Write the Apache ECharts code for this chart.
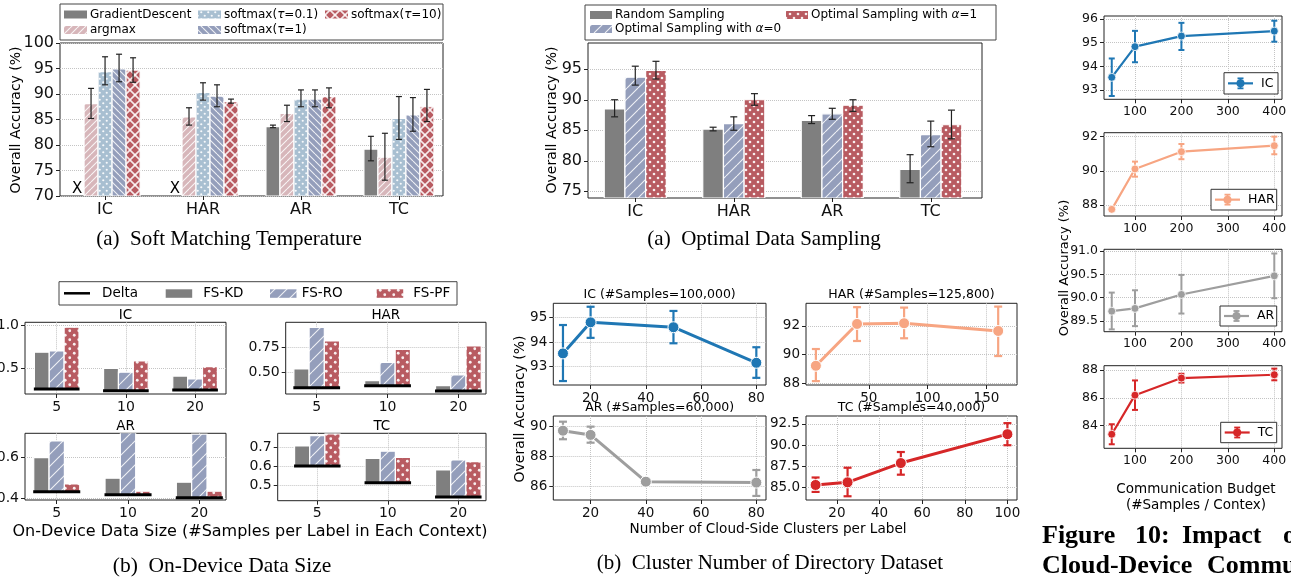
<!DOCTYPE html>
<html><head><meta charset="utf-8">
<script src="https://cdn.jsdelivr.net/npm/echarts@6/dist/echarts.min.js"></script>
<style>html,body{margin:0;padding:0;background:#fff}#c{width:1291px;height:578px}</style>
</head><body><div id="c"></div>
<script>
// ================= DATA =================
// (a) Soft Matching Temperature
const tempCats = ['IC', 'HAR', 'AR', 'TC'];
const tempGD = [null, null, 83.6, 79.2];
const tempGDLo = [null, null, 83.4, 76.9];
const tempGDHi = [null, null, 83.9, 81.7];
const tempArgmax = [88.1, 85.5, 86.2, 77.6];
const tempArgmaxLo = [85.2, 83.9, 84.6, 73.1];
const tempArgmaxHi = [91.1, 87.3, 87.8, 82.3];
const tempT01 = [94.4, 90.3, 89.0, 85.2];
const tempT01Lo = [91.8, 88.8, 87.5, 81.1];
const tempT01Hi = [97.3, 92.2, 90.8, 89.5];
const tempT1 = [94.9, 89.6, 89.0, 85.9];
const tempT1Lo = [92.4, 87.5, 87.5, 82.7];
const tempT1Hi = [97.8, 91.8, 90.8, 89.3];
const tempT10 = [94.7, 88.5, 89.5, 87.5];
const tempT10Lo = [92.3, 88.2, 87.3, 84.6];
const tempT10Hi = [97.1, 89.0, 91.2, 90.9];
const tempYTicks = [70, 75, 80, 85, 90, 95, 100];

// (a) Optimal Data Sampling
const sampCats = ['IC', 'HAR', 'AR', 'TC'];
const sampRandom = [88.5, 85.2, 86.6, 78.6];
const sampRandomLo = [87.2, 84.9, 86.1, 76.4];
const sampRandomHi = [90.0, 85.5, 87.4, 81.0];
const sampA0 = [93.7, 86.1, 87.7, 84.3];
const sampA0Lo = [92.4, 85.0, 86.8, 82.3];
const sampA0Hi = [95.5, 87.2, 88.6, 86.5];
const sampA1 = [94.8, 90.0, 89.1, 85.9];
const sampA1Lo = [93.4, 89.1, 88.1, 83.6];
const sampA1Hi = [96.3, 91.0, 90.0, 88.3];
const sampYTicks = [75, 80, 85, 90, 95];

// Communication budget (right column)
const budget = [50, 100, 200, 400];
const budXTicks = [100, 200, 300, 400];
const budIC = [93.53, 94.83, 95.28, 95.49];
const budICLo = [92.74, 94.17, 94.69, 95.04];
const budICHi = [94.33, 95.50, 95.84, 95.93];
const budHAR = [87.75, 90.11, 91.12, 91.47];
const budHARLo = [87.70, 89.66, 90.68, 90.97];
const budHARHi = [87.80, 90.54, 91.57, 92.00];
const budAR = [89.71, 89.77, 90.07, 90.47];
const budARLo = [89.32, 89.39, 89.66, 89.99];
const budARHi = [90.11, 90.16, 90.49, 90.95];
const budTC = [83.38, 86.19, 87.42, 87.66];
const budTCLo = [82.66, 85.13, 87.10, 87.26];
const budTCHi = [84.10, 87.25, 87.73, 88.10];
const budICTicks = [93, 94, 95, 96];
const budHARTicks = [88, 90, 92];
const budARTicks = [89.5, 90.0, 90.5, 91.0];
const budTCTicks = [84, 86, 88];

// (b) On-Device Data Size
const sizeCats = ['5', '10', '20'];
const sizeICDelta = [0.262, 0.242, 0.250];
const sizeICKD = [0.685, 0.500, 0.410];
const sizeICRO = [0.700, 0.455, 0.377];
const sizeICPF = [0.973, 0.585, 0.520];
const sizeHARDelta = [0.350, 0.370, 0.317];
const sizeHARKD = [0.537, 0.420, 0.370];
const sizeHARRO = [0.954, 0.604, 0.477];
const sizeHARPF = [0.817, 0.734, 0.767];
const sizeARDelta = [0.432, 0.418, 0.403];
const sizeARKD = [0.598, 0.498, 0.479];
const sizeARRO = [0.680, 0.720, 0.713];
const sizeARPF = [0.470, 0.435, 0.435];
const sizeTCDelta = [0.604, 0.516, 0.440];
const sizeTCKD = [0.709, 0.644, 0.583];
const sizeTCRO = [0.764, 0.682, 0.636];
const sizeTCPF = [0.773, 0.649, 0.627];
const sizeICTicks = [0.5, 1.0];
const sizeHARTicks = [0.50, 0.75];
const sizeARTicks = [0.4, 0.6];
const sizeTCTicks = [0.5, 0.6, 0.7];

// (b) Cluster Number of Directory Dataset
const clICX = [10, 20, 50, 80];
const clIC = [93.54, 94.80, 94.60, 93.16];
const clICLo = [92.42, 94.17, 93.95, 92.55];
const clICHi = [94.69, 95.43, 95.26, 93.79];
const clHARX = [5, 40, 80, 160];
const clHAR = [89.22, 92.14, 92.19, 91.65];
const clHARLo = [88.15, 90.95, 91.14, 89.90];
const clHARHi = [90.39, 93.31, 93.28, 93.35];
const clARX = [10, 20, 40, 80];
const clAR = [89.73, 89.45, 86.33, 86.27];
const clARLo = [89.16, 88.93, 86.25, 85.38];
const clARHi = [90.33, 90.00, 86.41, 87.11];
const clTCX = [10, 25, 50, 100];
const clTC = [85.32, 85.63, 87.90, 91.30];
const clTCLo = [84.50, 83.99, 86.53, 90.00];
const clTCHi = [86.20, 87.35, 89.20, 92.60];
const clXTicks = [20, 40, 60, 80];
const clHARXTicks = [50, 100, 150];
const clTCXTicks = [20, 40, 60, 80, 100];
const clICTicks = [93, 94, 95];
const clHARTicks = [88, 90, 92];
const clARTicks = [86, 88, 90];
const clTCTicks = [85.0, 87.5, 90.0, 92.5];

// ================= HELPERS =================
const FONT = 'DejaVu Sans';
const SERIF = '"Liberation Serif", "DejaVu Serif", serif';
const GRIDC = '#c4c4c4';

function pat(bg, kind, size, lw, r) {
  const c = document.createElement('canvas'); c.width = size; c.height = size;
  const g = c.getContext('2d');
  g.fillStyle = bg; g.fillRect(0, 0, size, size);
  g.strokeStyle = 'rgba(255,255,255,0.85)'; g.fillStyle = 'rgba(255,255,255,0.9)'; g.lineWidth = lw;
  const diag = (dir) => {
    g.beginPath();
    for (let k = -1; k <= 1; k++) {
      if (dir > 0) { g.moveTo(k * size, size); g.lineTo(k * size + size, 0); }
      else { g.moveTo(k * size, 0); g.lineTo(k * size + size, size); }
    }
    g.stroke();
  };
  if (kind === '/') diag(1);
  else if (kind === '\\') diag(-1);
  else if (kind === 'x') { diag(1); diag(-1); }
  else if (kind === '.') {
    [[size / 4, size / 4], [3 * size / 4, 3 * size / 4]].forEach(p => {
      g.beginPath(); g.arc(p[0], p[1], r, 0, Math.PI * 2); g.fill();
    });
  }
  return { image: c, repeat: 'repeat' };
}

const C_GRAY = '#7f7f7f', C_PINK = '#d7b6ba', C_LBLUE = '#a8bfd1', C_SLATE = '#949ebb', C_RED = '#b85b61';
const P_ARGMAX = pat(C_PINK, '/', 7, 1.1);
const P_T01 = pat(C_LBLUE, '.', 7, 1, 1.1);
const P_T1 = pat(C_SLATE, '\\', 7, 1.1);
const P_T10 = pat(C_RED, 'x', 10, 1.6);
const P_A0 = pat(C_SLATE, '/', 11, 1.1);
const P_A1 = pat(C_RED, '.', 8, 1, 1.3);
const P_RO = pat(C_SLATE, '/', 12, 1.1);
const P_PF = pat(C_RED, '.', 9, 1, 1.4);

const grids = [], xAxes = [], yAxes = [], series = [], graphics = [];

function addGrid(left, top, width, height) {
  grids.push({ left, top, width, height, show: true, borderColor: '#222', borderWidth: 1,
    backgroundColor: 'transparent', containLabel: false, outerBoundsMode: 'none' });
  return grids.length - 1;
}
function valAxis(gi, min, max, ticks, fs, dec, grid) {
  return {
    type: 'value', gridIndex: gi, min, max,
    axisLine: { show: false, onZero: false },
    axisTick: { show: true, length: 4, lineStyle: { color: '#222' }, customValues: ticks },
    axisLabel: { fontSize: fs, fontFamily: FONT, color: '#111', margin: 6, customValues: ticks,
      formatter: v => dec == null ? String(v) : Number(v).toFixed(dec) },
    splitLine: { show: grid, lineStyle: { color: GRIDC, type: 'dotted', width: 1 } }
  };
}
// category positions on a numeric axis (index 0..n-1), labelled by category names
function catValAxis(gi, min, max, cats, fs, grid) {
  const idx = cats.map((c, i) => i);
  const ax = valAxis(gi, min, max, idx, fs, null, grid);
  ax.axisLabel.formatter = v => cats[Math.round(v)];
  return ax;
}
function barItem(slot, n, stepFrac, fill) {
  return function (params, api) {
    const ci = api.value(0), v = api.value(1), b = api.value(2);
    const band = Math.abs(api.size([1, 0])[0]), step = band * stepFrac;
    const top = api.coord([ci, v]), bot = api.coord([ci, b]);
    const cx = top[0] + (slot - (n - 1) / 2) * step;
    return { type: 'rect', shape: { x: cx - step / 2, y: top[1], width: step, height: bot[1] - top[1] },
      style: { fill, stroke: '#fff', lineWidth: 1.2 } };
  };
}
function errGroupItem(slot, n, stepFrac, cap, color, lw) {
  return function (params, api) {
    const ci = api.value(0), lo = api.value(1), hi = api.value(2);
    const band = Math.abs(api.size([1, 0])[0]), step = band * stepFrac;
    const p1 = api.coord([ci, lo]), p2 = api.coord([ci, hi]);
    const x = p1[0] + (slot - (n - 1) / 2) * step;
    const st = { stroke: color, lineWidth: lw };
    return { type: 'group', children: [
      { type: 'line', shape: { x1: x, y1: p1[1], x2: x, y2: p2[1] }, style: st },
      { type: 'line', shape: { x1: x - cap, y1: p1[1], x2: x + cap, y2: p1[1] }, style: st },
      { type: 'line', shape: { x1: x - cap, y1: p2[1], x2: x + cap, y2: p2[1] }, style: st }
    ] };
  };
}
function errItem(cap, color, lw) {
  return function (params, api) {
    const x = api.value(0), lo = api.value(1), hi = api.value(2);
    const p1 = api.coord([x, lo]), p2 = api.coord([x, hi]);
    const st = { stroke: color, lineWidth: lw };
    return { type: 'group', children: [
      { type: 'line', shape: { x1: p1[0], y1: p1[1], x2: p2[0], y2: p2[1] }, style: st },
      { type: 'line', shape: { x1: p1[0] - cap, y1: p1[1], x2: p1[0] + cap, y2: p1[1] }, style: st },
      { type: 'line', shape: { x1: p2[0] - cap, y1: p2[1], x2: p2[0] + cap, y2: p2[1] }, style: st }
    ] };
  };
}
function deltaItem(spanFrac, lw) {
  return function (params, api) {
    const ci = api.value(0), d = api.value(1);
    const band = Math.abs(api.size([1, 0])[0]), p = api.coord([ci, d]);
    return { type: 'line', shape: { x1: p[0] - band * spanFrac / 2, y1: p[1], x2: p[0] + band * spanFrac / 2, y2: p[1] },
      style: { stroke: '#000', lineWidth: lw } };
  };
}
function xMarkItem(slot, n, stepFrac) {
  return function (params, api) {
    const ci = api.value(0), v = api.value(1);
    const band = Math.abs(api.size([1, 0])[0]), step = band * stepFrac;
    const p = api.coord([ci, v]);
    return { type: 'text', x: p[0] + (slot - (n - 1) / 2) * step, y: p[1] + 1,
      style: { text: 'X', fill: '#000', font: '15px ' + FONT, align: 'center', verticalAlign: 'bottom' } };
  };
}
function txt(x, y, text, font, opts) {
  graphics.push(Object.assign({ type: 'text', x, y, silent: true,
    style: Object.assign({ text, font, fill: '#000', align: 'center', verticalAlign: 'middle' }, (opts && opts.style) || {}) },
    opts && opts.rotation ? { rotation: opts.rotation } : {}));
}
function vtxt(x, y, text, font) { txt(x, y, text, font, { rotation: Math.PI / 2 }); }
// legend label with an italic greek symbol
function mathTxt(x, y, pre, sym, post, size) {
  graphics.push({ type: 'text', x, y, silent: true, style: {
    text: '{a|' + pre + '}{i|' + sym + '}{a|' + post + '}', align: 'left', verticalAlign: 'middle',
    rich: { a: { fontFamily: FONT, fontSize: size, fill: '#000' }, i: { fontFamily: FONT, fontSize: size, fontStyle: 'italic', fill: '#000' } } } });
}

// ================= (a) Soft Matching Temperature =================
{
  const gi = addGrid(60, 43, 383, 153);
  xAxes.push(catValAxis(gi, -0.46, 3.45, tempCats, 16, false));
  yAxes.push(valAxis(gi, 70, 100, tempYTicks, 16, null, true));
  const groups = [
    [tempGD, tempGDLo, tempGDHi, C_GRAY],
    [tempArgmax, tempArgmaxLo, tempArgmaxHi, P_ARGMAX],
    [tempT01, tempT01Lo, tempT01Hi, P_T01],
    [tempT1, tempT1Lo, tempT1Hi, P_T1],
    [tempT10, tempT10Lo, tempT10Hi, P_T10]
  ];
  groups.forEach((g, k) => {
    series.push({ type: 'custom', xAxisIndex: gi, yAxisIndex: gi, clip: true, z: 2, encode: { x: 0, y: [1, 2] },
      data: g[0].map((v, i) => v == null ? null : [i, v, 70]).filter(Boolean), renderItem: barItem(k, 5, 0.143, g[3]) });
    series.push({ type: 'custom', xAxisIndex: gi, yAxisIndex: gi, z: 3, encode: { x: 0, y: [1, 2] },
      data: g[1].map((v, i) => v == null ? null : [i, v, g[2][i]]).filter(Boolean), renderItem: errGroupItem(k, 5, 0.143, 3, '#222', 1.2) });
  });
  series.push({ type: 'custom', xAxisIndex: gi, yAxisIndex: gi, z: 3, encode: { x: 0, y: 1 },
    data: tempGD.map((v, i) => v == null ? [i, 70] : null).filter(Boolean), renderItem: xMarkItem(0, 5, 0.143) });
  vtxt(16, 120, 'Overall Accuracy (%)', '14px ' + FONT);
  // legend
  graphics.push({ type: 'rect', shape: { x: 60, y: 4, width: 383, height: 36 }, style: { fill: '#fff', stroke: '#444', lineWidth: 1 } });
  const leg = [[64, 10.5, C_GRAY, 'GradientDescent'], [198, 10.5, P_T01, ['softmax(', 'τ', '=0.1)']], [325, 10.5, P_T10, ['softmax(', 'τ', '=10)']],
               [64, 26, P_ARGMAX, 'argmax'], [198, 26, P_T1, ['softmax(', 'τ', '=1)']]];
  leg.forEach(l => {
    graphics.push({ type: 'rect', shape: { x: l[0], y: l[1], width: 23, height: 8 }, style: { fill: l[2] } });
    if (Array.isArray(l[3])) mathTxt(l[0] + 26, l[1] + 4, l[3][0], l[3][1], l[3][2], 12);
    else txt(l[0] + 26, l[1] + 4, l[3], '12px ' + FONT, { style: { align: 'left' } });
  });
  txt(229, 239, '(a)  Soft Matching Temperature', '21px ' + SERIF);
}

// ================= (a) Optimal Data Sampling =================
{
  const gi = addGrid(588, 43, 394, 155);
  xAxes.push(catValAxis(gi, -0.48, 3.52, sampCats, 16, false));
  yAxes.push(valAxis(gi, 73.9, 99.3, sampYTicks, 16, null, true));
  const groups = [
    [sampRandom, sampRandomLo, sampRandomHi, C_GRAY],
    [sampA0, sampA0Lo, sampA0Hi, P_A0],
    [sampA1, sampA1Lo, sampA1Hi, P_A1]
  ];
  groups.forEach((g, k) => {
    series.push({ type: 'custom', xAxisIndex: gi, yAxisIndex: gi, clip: true, z: 2, encode: { x: 0, y: [1, 2] },
      data: g[0].map((v, i) => [i, v, 73.9]), renderItem: barItem(k, 3, 0.21, g[3]) });
    series.push({ type: 'custom', xAxisIndex: gi, yAxisIndex: gi, z: 3, encode: { x: 0, y: [1, 2] },
      data: g[1].map((v, i) => [i, v, g[2][i]]), renderItem: errGroupItem(k, 3, 0.21, 3.5, '#222', 1.2) });
  });
  vtxt(552, 120, 'Overall Accuracy (%)', '14px ' + FONT);
  graphics.push({ type: 'rect', shape: { x: 585, y: 5, width: 411, height: 35 }, style: { fill: '#fff', stroke: '#444', lineWidth: 1 } });
  const leg = [[590, 11, C_GRAY, null], [786, 11, P_A1, '=1'], [590, 25, P_A0, '=0']];
  leg.forEach(l => {
    graphics.push({ type: 'rect', shape: { x: l[0], y: l[1], width: 22, height: 8 }, style: { fill: l[2] } });
    if (l[3] == null) txt(l[0] + 25, l[1] + 4, 'Random Sampling', '12px ' + FONT, { style: { align: 'left' } });
    else mathTxt(l[0] + 25, l[1] + 4, 'Optimal Sampling with ', 'α', l[3], 12);
  });
  txt(764, 239, '(a)  Optimal Data Sampling', '21px ' + SERIF);
}

// ================= Communication budget (right column) =================
{
  const specs = [
    [16, 83.3, 92.6, 96.13, budICTicks, null, budIC, budICLo, budICHi, '#1f77b4', 'IC', [1224, 72.7, 54, 21.3]],
    [132.7, 83.3, 87.36, 92.23, budHARTicks, null, budHAR, budHARLo, budHARHi, '#f7a582', 'HAR', [1211, 189.3, 65.7, 20.7]],
    [249.3, 82.4, 89.27, 91.04, budARTicks, 1, budAR, budARLo, budARHi, '#9e9e9e', 'AR', [1220, 306, 56.7, 20]],
    [365.7, 82.6, 82.37, 88.31, budTCTicks, null, budTC, budTCLo, budTCHi, '#d62728', 'TC', [1220.7, 422.3, 56, 20.4]]
  ];
  specs.forEach(s => {
    const gi = addGrid(1104, s[0], 178, s[1]);
    xAxes.push(valAxis(gi, 33.3, 416.6, budXTicks, 12.5, null, true));
    yAxes.push(valAxis(gi, s[2], s[3], s[4], 12.5, s[5], true));
    series.push({ type: 'line', xAxisIndex: gi, yAxisIndex: gi, z: 4, data: budget.map((x, i) => [x, s[6][i]]),
      symbol: 'circle', symbolSize: 8, lineStyle: { color: s[9], width: 2.2 }, itemStyle: { color: s[9], borderColor: '#fff', borderWidth: 0.8 } });
    series.push({ type: 'custom', xAxisIndex: gi, yAxisIndex: gi, z: 3, encode: { x: 0, y: [1, 2] },
      data: budget.map((x, i) => [x, s[7][i], s[8][i]]), renderItem: errItem(3, s[9], 2) });
    const b = s[11];
    graphics.push({ type: 'rect', z: 10, shape: { x: b[0], y: b[1], width: b[2], height: b[3] }, style: { fill: '#fff', stroke: '#333', lineWidth: 1 } });
    const cy = b[1] + b[3] / 2, lx = b[0] + 4, cx = lx + 12.5;
    graphics.push({ type: 'line', z: 11, shape: { x1: lx, y1: cy, x2: lx + 25, y2: cy }, style: { stroke: s[9], lineWidth: 2.2 } });
    graphics.push({ type: 'line', z: 11, shape: { x1: cx, y1: cy - 5, x2: cx, y2: cy + 5 }, style: { stroke: s[9], lineWidth: 1.8 } });
    graphics.push({ type: 'line', z: 11, shape: { x1: cx - 3, y1: cy - 5, x2: cx + 3, y2: cy - 5 }, style: { stroke: s[9], lineWidth: 1.8 } });
    graphics.push({ type: 'line', z: 11, shape: { x1: cx - 3, y1: cy + 5, x2: cx + 3, y2: cy + 5 }, style: { stroke: s[9], lineWidth: 1.8 } });
    graphics.push({ type: 'circle', z: 11, shape: { cx, cy, r: 4 }, style: { fill: s[9] } });
    graphics.push({ type: 'text', z: 11, x: lx + 33, y: cy, style: { text: s[10], font: '12.5px ' + FONT, fill: '#000', align: 'left', verticalAlign: 'middle' } });
  });
  vtxt(1065, 268, 'Overall Accuracy (%)', '13px ' + FONT);
  txt(1196, 489, 'Communication Budget', '13.5px ' + FONT);
  txt(1196, 505, '(#Samples / Contex)', '13.5px ' + FONT);
  const fb = 'bold 26px ' + SERIF;
  [[1042, 'Figure'], [1135, '10:'], [1182, 'Impact'], [1283, 'of']].forEach(w => txt(w[0], 536, w[1], fb, { style: { align: 'left' } }));
  [[1042, 'Cloud-Device'], [1207, 'Communication']].forEach(w => txt(w[0], 566, w[1], fb, { style: { align: 'left' } }));
}

// ================= (b) On-Device Data Size =================
{
  const specs = [
    [25, 322.3, 201, 71.7, -0.458, 2.447, 0.204, 1.03, sizeICTicks, 1, sizeICDelta, sizeICKD, sizeICRO, sizeICPF, 'IC'],
    [285.7, 322.3, 200.3, 71.7, -0.438, 2.39, 0.287, 1.004, sizeHARTicks, 2, sizeHARDelta, sizeHARKD, sizeHARRO, sizeHARPF, 'HAR'],
    [25, 433.3, 201, 66.7, -0.445, 2.374, 0.392, 0.717, sizeARTicks, 1, sizeARDelta, sizeARKD, sizeARRO, sizeARPF, 'AR'],
    [277.7, 433.3, 208.3, 67.4, -0.562, 2.393, 0.421, 0.776, sizeTCTicks, 1, sizeTCDelta, sizeTCKD, sizeTCRO, sizeTCPF, 'TC']
  ];
  specs.forEach(s => {
    const gi = addGrid(s[0], s[1], s[2], s[3]);
    xAxes.push(catValAxis(gi, s[4], s[5], sizeCats, 14, true));
    yAxes.push(valAxis(gi, s[6], s[7], s[8], 14, s[9], true));
    const delta = s[10];
    [[s[11], C_GRAY], [s[12], P_RO], [s[13], P_PF]].forEach((g, k) => {
      series.push({ type: 'custom', xAxisIndex: gi, yAxisIndex: gi, clip: true, z: 2, encode: { x: 0, y: [1, 2] },
        data: g[0].map((v, i) => [i, v, delta[i]]), renderItem: barItem(k, 3, 0.215, g[1]) });
    });
    series.push({ type: 'custom', xAxisIndex: gi, yAxisIndex: gi, z: 3, encode: { x: 0, y: 1 },
      data: delta.map((d, i) => [i, d]), renderItem: deltaItem(0.66, 3) });
    txt(s[0] + s[2] / 2, s[1] - 7, s[14], '13.5px ' + FONT);
  });
  graphics.push({ type: 'rect', shape: { x: 59, y: 281.7, width: 398, height: 23.3 }, style: { fill: '#fff', stroke: '#444', lineWidth: 1 } });
  graphics.push({ type: 'line', shape: { x1: 64, y1: 293.3, x2: 90, y2: 293.3 }, style: { stroke: '#000', lineWidth: 2.5 } });
  txt(102, 293.3, 'Delta', '13.5px ' + FONT, { style: { align: 'left' } });
  [[165.7, C_GRAY, 'FS-KD', 203.3], [270, P_RO, 'FS-RO', 301.7], [376.7, P_PF, 'FS-PF', 413.3]].forEach(l => {
    graphics.push({ type: 'rect', shape: { x: l[0], y: 289.3, width: 26.5, height: 8.5 }, style: { fill: l[1] } });
    txt(l[3], 293.3, l[2], '13.5px ' + FONT, { style: { align: 'left' } });
  });
  txt(250, 531.5, 'On-Device Data Size (#Samples per Label in Each Context)', '16px ' + FONT);
  txt(222, 566, '(b)  On-Device Data Size', '21.5px ' + SERIF);
}

// ================= (b) Cluster Number of Directory Dataset =================
{
  const specs = [
    [553.3, 303.3, 212.7, 81.7, 6.5, 83.5, clXTicks, 92.26, 95.57, clICTicks, null, clICX, clIC, clICLo, clICHi, '#1f77b4', 'IC (#Samples=100,000)'],
    [806, 303.3, 211, 81.7, -3.4, 176, clHARXTicks, 87.88, 93.58, clHARTicks, null, clHARX, clHAR, clHARLo, clHARHi, '#f7a582', 'HAR (#Samples=125,800)'],
    [553.3, 416, 212.7, 84, 6.5, 83.5, clXTicks, 85.11, 90.71, clARTicks, null, clARX, clAR, clARLo, clARHi, '#9e9e9e', 'AR (#Samples=60,000)'],
    [806, 416, 211, 84, 5.5, 104.5, clTCXTicks, 83.55, 93.44, clTCTicks, 1, clTCX, clTC, clTCLo, clTCHi, '#d62728', 'TC (#Samples=40,000)']
  ];
  specs.forEach(s => {
    const gi = addGrid(s[0], s[1], s[2], s[3]);
    xAxes.push(valAxis(gi, s[4], s[5], s[6], 13.5, null, true));
    yAxes.push(valAxis(gi, s[7], s[8], s[9], 13.5, s[10], true));
    series.push({ type: 'line', xAxisIndex: gi, yAxisIndex: gi, z: 4, data: s[11].map((x, i) => [x, s[12][i]]),
      symbol: 'circle', symbolSize: 11, lineStyle: { color: s[15], width: 3 }, itemStyle: { color: s[15], borderColor: '#fff', borderWidth: 1 } });
    series.push({ type: 'custom', xAxisIndex: gi, yAxisIndex: gi, z: 3, encode: { x: 0, y: [1, 2] },
      data: s[11].map((x, i) => [x, s[13][i], s[14][i]]), renderItem: errItem(4, s[15], 2.2) });
    txt(s[0] + s[2] / 2, s[1] - 8.5, s[16], '12.5px ' + FONT);
  });
  vtxt(520, 409, 'Overall Accuracy (%)', '14px ' + FONT);
  txt(768, 529, 'Number of Cloud-Side Clusters per Label', '13.6px ' + FONT);
  txt(770, 563, '(b)  Cluster Number of Directory Dataset', '21px ' + SERIF);
}

const chart = echarts.init(document.getElementById('c'), null, { renderer: 'canvas' });
chart.setOption({
  animation: false,
  backgroundColor: '#fff',
  grid: grids, xAxis: xAxes, yAxis: yAxes, series,
  graphic: { elements: graphics }
});
</script></body></html>
